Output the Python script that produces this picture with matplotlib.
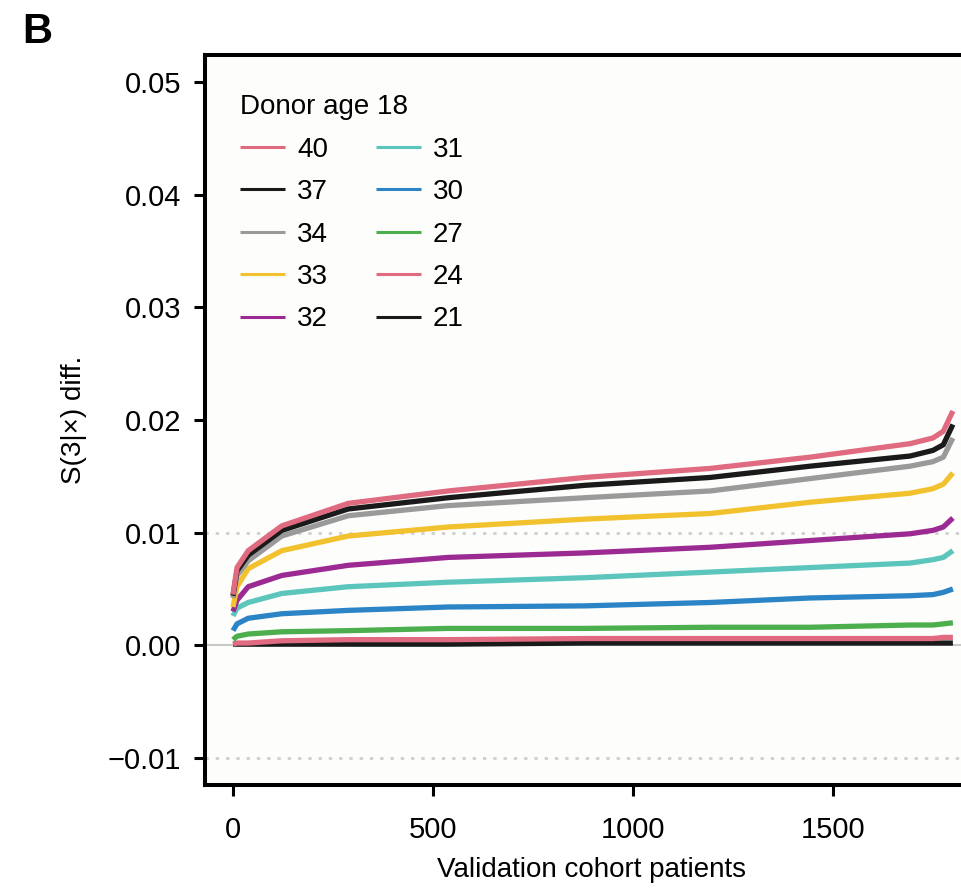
import numpy as np
import matplotlib.pyplot as plt

patients = [0, 10, 38, 122, 288, 538, 880, 1193, 1443, 1693, 1750, 1776, 1800]

ages = ["40", "37", "34", "33", "32", "31", "30", "27", "24", "21"]
colors = ["#e06a80", "#1a1a1a", "#9a9a9a", "#f2c12e", "#9c2a93",
          "#5cc6bd", "#2b84c6", "#4cae4c", "#e06a80", "#1a1a1a"]

diff = {
    "40": [0.0045, 0.0069, 0.0084, 0.0106, 0.0126, 0.0137, 0.0149, 0.0157, 0.0167, 0.0179, 0.0184, 0.0190, 0.0208],
    "37": [0.0044, 0.0066, 0.0080, 0.0102, 0.0121, 0.0131, 0.0142, 0.0149, 0.0159, 0.0168, 0.0173, 0.0178, 0.0196],
    "34": [0.0042, 0.0062, 0.0075, 0.0097, 0.0115, 0.0124, 0.0131, 0.0137, 0.0148, 0.0159, 0.0163, 0.0167, 0.0184],
    "33": [0.0034, 0.0052, 0.0068, 0.0084, 0.0097, 0.0105, 0.0112, 0.0117, 0.0127, 0.0135, 0.0139, 0.0143, 0.0153],
    "32": [0.0030, 0.0040, 0.0052, 0.0062, 0.0071, 0.0078, 0.0082, 0.0087, 0.0093, 0.0099, 0.0102, 0.0105, 0.0113],
    "31": [0.0026, 0.0033, 0.0038, 0.0046, 0.0052, 0.0056, 0.0060, 0.0065, 0.0069, 0.0073, 0.0076, 0.0078, 0.0084],
    "30": [0.0013, 0.0019, 0.0024, 0.0028, 0.0031, 0.0034, 0.0035, 0.0038, 0.0042, 0.0044, 0.0045, 0.0047, 0.0050],
    "27": [0.0005, 0.0008, 0.0010, 0.0012, 0.0013, 0.0015, 0.0015, 0.0016, 0.0016, 0.0018, 0.0018, 0.0019, 0.0020],
    "24": [0.0001, 0.0002, 0.0002, 0.0004, 0.0005, 0.0005, 0.0006, 0.0006, 0.0006, 0.0006, 0.0006, 0.0007, 0.0007],
    "21": [0.0001, 0.0001, 0.0001, 0.0001, 0.0001, 0.0001, 0.0002, 0.0002, 0.0002, 0.0002, 0.0002, 0.0002, 0.0002],
}

plt.rcParams['font.family'] = ['Liberation Sans', 'DejaVu Sans']

fig = plt.figure(figsize=(9.62, 8.9), dpi=100)
ax = fig.add_axes([0.2131, 0.1180, 0.819, 0.8202])
ax.set_facecolor('#fdfdfc')

ax.axhline(0, color='#c8c8c8', lw=1.5, zorder=1)
for yy in (0.01, -0.01):
    ax.axhline(yy, color='#cfcfcf', lw=2, ls=(0, (1.2, 2.5)), zorder=1)

# draw bottom series first so the upper ones sit on top
for age, c in list(zip(ages, colors))[::-1]:
    ax.plot(patients, diff[age], color=c, lw=3.8, label=age, zorder=2,
            solid_capstyle='butt')

ax.set_xlim(-70, 1900)
ax.set_ylim(-0.0124, 0.0524)
ax.set_xticks([0, 500, 1000, 1500])
ax.set_yticks([-0.01, 0.0, 0.01, 0.02, 0.03, 0.04, 0.05])
ax.set_yticklabels(["\u22120.01", "0.00", "0.01", "0.02", "0.03", "0.04", "0.05"])

for s in ['left', 'bottom', 'top']:
    ax.spines[s].set_linewidth(2.9)
ax.spines['right'].set_visible(False)
ax.tick_params(length=8, width=2.2, labelsize=21)
ax.tick_params(axis='x', pad=14)
ax.tick_params(axis='y', pad=9)

ax.set_xlabel("Validation cohort patients", fontsize=20, va='center')
ax.xaxis.set_label_coords(0.491, -0.117)
ax.set_ylabel("S(3|\u00d7) diff.", fontsize=20, va='center')
ax.yaxis.set_label_coords(-0.166, 0.5)

handles, labels = ax.get_legend_handles_labels()
order = [labels.index(a) for a in ages]
leg = ax.legend([handles[i] for i in order], [labels[i] for i in order],
                ncol=2, title="Donor age 18", loc='upper left',
                bbox_to_anchor=(0.0444, 0.946), frameon=False, fontsize=20,
                title_fontsize=20, handlelength=1.62, handletextpad=0.43,
                columnspacing=1.73, labelspacing=0.59, alignment='left',
                borderpad=0, borderaxespad=0)
for ln in leg.get_lines():
    ln.set_linewidth(2.2)

fig.text(0.023, 1 - 12 / 890, "B", fontsize=30, fontweight='bold', va='top')

fig.savefig("out.png", dpi=100, facecolor='white')
